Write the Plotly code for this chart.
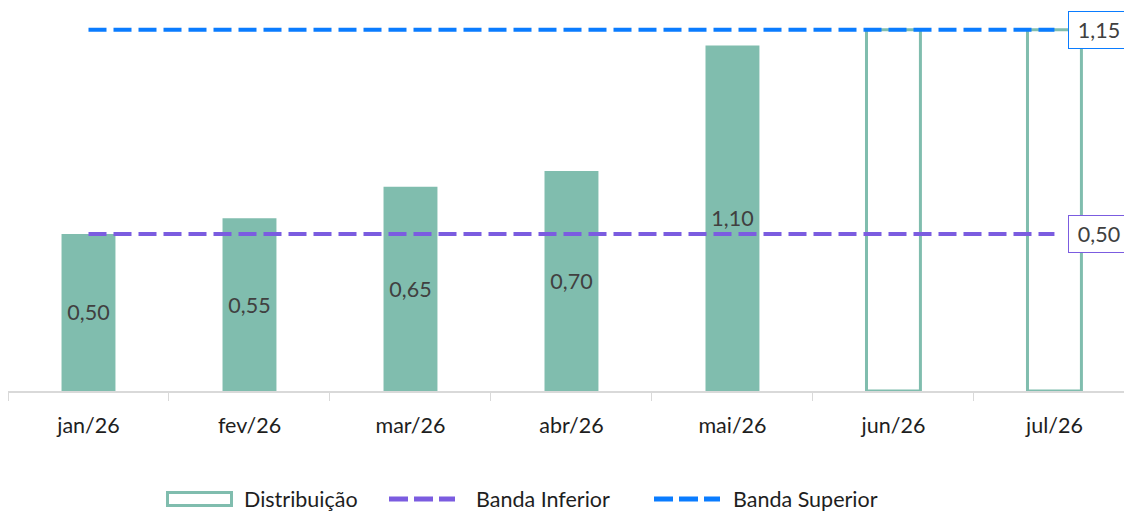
import plotly.graph_objects as go

meses = ["jan/26", "fev/26", "mar/26", "abr/26", "mai/26", "jun/26", "jul/26"]
distribuicao = [0.50, 0.55, 0.65, 0.70, 1.10, None, None]
distribuicao_prevista = [None, None, None, None, None, 1.15, 1.15]
banda_inferior = [0.50, 0.50, 0.50, 0.50, 0.50, 0.50, 0.50]
banda_superior = [1.15, 1.15, 1.15, 1.15, 1.15, 1.15, 1.15]
legenda = ["Distribuição", "Banda Inferior", "Banda Superior"]

TEAL = "#80BDAE"
ROXO = "#7B5CE0"
AZUL = "#0A7CFF"
TXT = "#404040"
PRETO = "#1E1E1E"
FONTE = "Lato, 'Open Sans', sans-serif"
TAM = 21.5

# plot area in pixels (used to place the hand-drawn legend below the axis)
W, H = 1124, 511
ML, MR, MT, MB = 8, 0, 14, 120
PW, PH = W - ML - MR, H - MT - MB


def px_x(p):
    return (p - ML) / PW


def px_y(p):
    return (H - MB - p) / PH


def fmt(v):
    return f"{v:.2f}".replace(".", ",")


fig = go.Figure()

# realized distribution (filled bars with value labels)
fig.add_trace(go.Bar(
    x=meses, y=distribuicao, width=0.335,
    marker=dict(color=TEAL, line=dict(width=0)),
    text=[fmt(v) if v is not None else "" for v in distribuicao],
    textposition="inside", insidetextanchor="middle",
    textfont=dict(color=TXT, size=TAM, family=FONTE),
    showlegend=False, hoverinfo="skip",
))

# projected distribution (outlined bars)
fig.add_trace(go.Bar(
    x=meses, y=distribuicao_prevista, width=0.335, name=legenda[0],
    marker=dict(color="rgba(255,255,255,0)", line=dict(color=TEAL, width=3)),
    showlegend=False,
))

fig.add_trace(go.Scatter(
    x=meses, y=banda_inferior, mode="lines", name=legenda[1],
    line=dict(color=ROXO, width=4, dash="18px,7px"), showlegend=False,
))
fig.add_trace(go.Scatter(
    x=meses, y=banda_superior, mode="lines", name=legenda[2],
    line=dict(color=AZUL, width=4, dash="18px,7px"), showlegend=False,
))

# value boxes at the end of each band
for serie, cor in ((banda_superior, AZUL), (banda_inferior, ROXO)):
    fig.add_annotation(
        x=meses[-1], y=serie[-1], text=fmt(serie[-1]),
        xanchor="left", yanchor="middle", xshift=14, showarrow=False,
        width=50, height=26, align="center", valign="middle",
        font=dict(color=TXT, size=TAM, family=FONTE),
        bordercolor=cor, borderwidth=1, borderpad=5, bgcolor="white",
    )

# legend row
ly = px_y(499)
fig.add_shape(type="rect", xref="paper", yref="paper",
              x0=px_x(167.5), x1=px_x(231.5), y0=px_y(492.5), y1=px_y(505.5),
              line=dict(color=TEAL, width=3), fillcolor="white")
for (a, b), cor in (((389, 463), ROXO), ((654, 728), AZUL)):
    fig.add_shape(type="line", xref="paper", yref="paper",
                  x0=px_x(a), x1=px_x(b - 8), y0=ly, y1=ly,
                  line=dict(color=cor, width=5, dash="19px,6px"))
for nome, xp in zip(legenda, (242, 474, 731)):
    fig.add_annotation(x=px_x(xp), y=ly, xref="paper", yref="paper",
                       text=nome, showarrow=False, xanchor="left", yanchor="middle",
                       font=dict(size=TAM, color=PRETO, family=FONTE))

fig.update_layout(
    width=W, height=H,
    margin=dict(l=ML, r=MR, t=MT, b=MB),
    paper_bgcolor="white", plot_bgcolor="white",
    barmode="overlay",
    font=dict(family=FONTE, size=TAM, color=TXT),
    showlegend=False,
    xaxis=dict(
        type="category", range=[-0.5, 6.432], automargin=False,
        showline=True, linecolor="#D9D9D9", linewidth=2,
        ticks="outside", tickson="boundaries", ticklen=8, tickcolor="#D9D9D9",
        ticklabelstandoff=14,
        tickfont=dict(size=TAM, color=PRETO, family=FONTE),
        showgrid=False, zeroline=False,
    ),
    yaxis=dict(
        range=[0, 1.2], visible=False, showgrid=False, zeroline=False,
        automargin=False,
    ),
)

fig.write_html("out.html")
